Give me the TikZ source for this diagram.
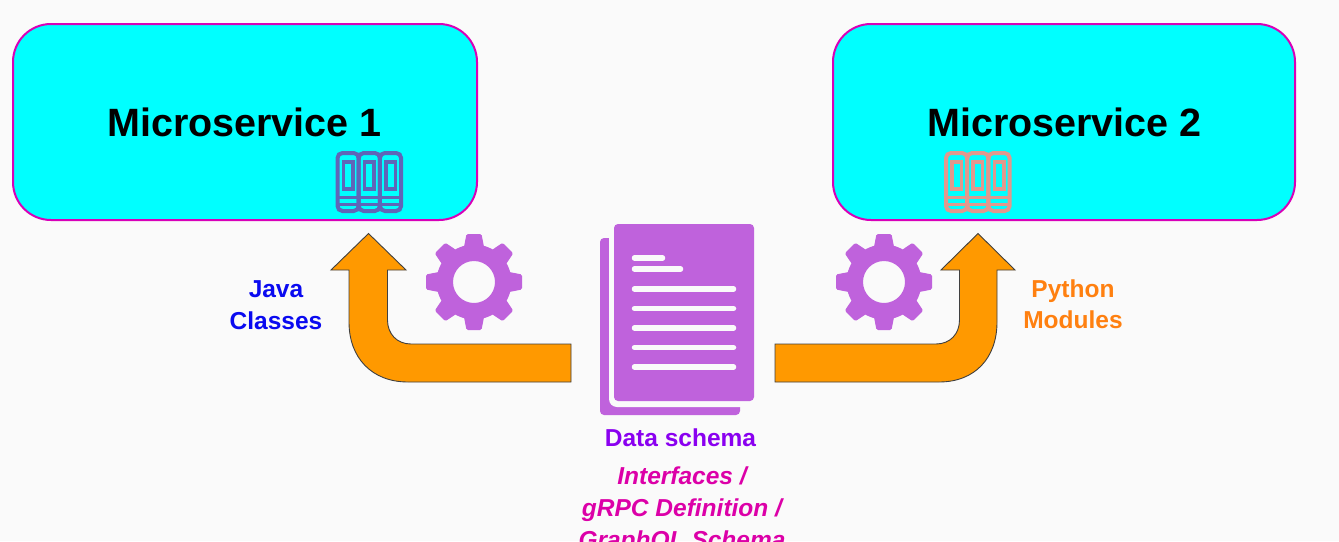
\documentclass[tikz,border=0pt]{standalone}
\usepackage{fontspec}
\setmainfont{Liberation Sans}
\definecolor{pagebg}{HTML}{FAFAFA}
\definecolor{boxfill}{HTML}{00FFFF}
\definecolor{boxline}{HTML}{D800B8}
\definecolor{arrowfill}{HTML}{FF9900}
\definecolor{iconfill}{HTML}{BF62DC}
\definecolor{booksleft}{HTML}{5F66B8}
\definecolor{booksright}{HTML}{E0998E}
\definecolor{javablue}{HTML}{0A0AF0}
\definecolor{pyorange}{HTML}{FF8010}
\definecolor{schemaviolet}{HTML}{8A00F0}
\definecolor{ifacepink}{HTML}{DC00A8}
\tikzset{
  service/.style={draw=boxline, fill=boxfill, line width=2pt, rounded corners=38pt},
  bigarrow/.style={draw=black!75, fill=arrowfill, line width=0.9pt, line join=miter},
  gear/.style={fill=iconfill, even odd rule},
  docline/.style={draw=pagebg, line width=5.5pt, line cap=round},
  title/.style={inner sep=0pt, font=\fontsize{39.5}{44}\selectfont\bfseries},
  caption/.style={inner sep=0pt, align=center, font=\fontsize{24.5}{31.5}\selectfont\bfseries},
}
\newcommand{\gearicon}[2]{%
  \foreach \ang in {0,45,...,315}
    \fill[iconfill, rounded corners=1.5pt, rotate around={\ang:(#1,#2)}] (#1-7.5,#2-48) -- (#1+7.5,#2-48) -- (#1+11,#2-30) -- (#1-11,#2-30) -- cycle;
  \fill[gear] (#1,#2) circle (37.5) (#1,#2) circle (21);
}
\newcommand{\booksicon}[3]{%
  \foreach \vol in {0,21.2,42.4} {
    \draw[#3, line width=4pt, rounded corners=5pt] (#1+\vol,#2) rectangle ++(21.2,58);
    \draw[#3, line width=3.5pt] (#1+\vol+6,#2+9) rectangle ++(9.5,27);
    \draw[#3, line width=3pt] (#1+\vol+1,#2+44) -- ++(19.2,0) (#1+\vol+1,#2+51) -- ++(19.2,0);
  }
}
\begin{document}
\begin{tikzpicture}[x=1pt, y=-1pt]
  \path[use as bounding box, fill=pagebg] (0,0) rectangle (1339,541);

  %% ════ boxes ════
  \draw[service] (13,24) rectangle (477,220);
  \draw[service] (833,24) rectangle (1295,220);
  \node[title] (svcone) at (244.5,122) {Microservice 1};
  \node[title] (svctwo) at (1064.5,122) {Microservice 2};
  \booksicon{337.5}{153}{booksleft}
  \booksicon{946}{153}{booksright}

  %% ════ block arrows ════
  \draw[bigarrow] (571,344) -- (411,344) .. controls (397,344) and (387.5,334) .. (387.5,320)
    -- (387.5,270) -- (406,270) -- (368.5,233.5) -- (331,270) -- (349,270) -- (349,322)
    .. controls (349,358) and (372,382) .. (408,382) -- (571,382) -- cycle;
  \draw[bigarrow] (775,344) -- (936,344) .. controls (950,344) and (959.5,334) .. (959.5,320)
    -- (959.5,270) -- (941,270) -- (978,233.5) -- (1015,270) -- (997,270) -- (997,322)
    .. controls (997,358) and (975,382) .. (939,382) -- (775,382) -- cycle;

  %% ════ gears ════
  \gearicon{474}{282}
  \gearicon{884}{282}

  %% ════ document ════
  \fill[iconfill, rounded corners=4pt] (600,238) rectangle (740,415);
  \fill[pagebg, rounded corners=8pt] (609,222) rectangle (760,407);
  \fill[iconfill, rounded corners=4pt] (614,224) rectangle (754,401);
  \draw[docline] (634.5,258) -- (662.5,258);
  \draw[docline] (634.5,269) -- (680.5,269);
  \foreach \y in {289,308.5,328,347.5,367}
    \draw[docline] (634.5,\y) -- (733.5,\y);

  %% ════ labels ════
  \node[caption, text=javablue] (java) at (276,305) {Java\\Classes};
  \node[caption, text=pyorange] (python) at (1073,304) {Python\\Modules};
  \node[caption, text=schemaviolet] (schema) at (680.5,438) {Data schema};
  \node[caption, text=ifacepink, font=\fontsize{24.5}{32}\selectfont\bfseries\itshape] (iface) at (682,510) {Interfaces /\\gRPC Definition /\\GraphQL Schema};
\end{tikzpicture}
\end{document}
